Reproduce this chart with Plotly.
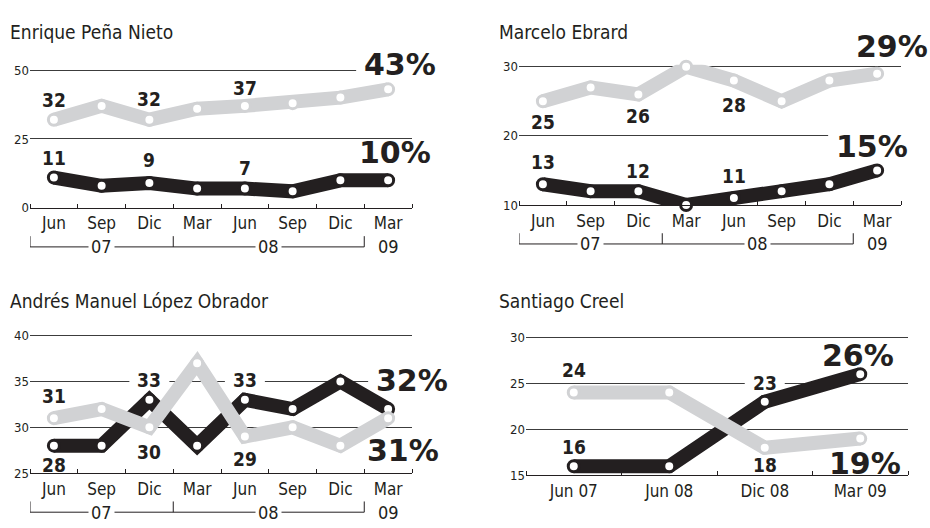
import plotly.graph_objects as go

W, H = 930, 528

# ---------------- data ----------------
months = ["Jun", "Sep", "Dic", "Mar", "Jun", "Sep", "Dic", "Mar"]
years = ["07", "08", "09"]
year_first_idx = [0, 3, 7]
year_last_idx = [2, 6, 7]

epn_gris = [32, 37, 32, 36, 37, 38, 40, 43]
epn_negro = [11, 8, 9, 7, 7, 6, 10, 10]

ebrard_gris = [25, 27, 26, 30, 28, 25, 28, 29]
ebrard_negro = [13, 12, 12, 10, 11, 12, 13, 15]

amlo_gris = [31, 32, 30, 37, 29, 30, 28, 31]
amlo_negro = [28, 28, 33, 28, 33, 32, 35, 32]

creel_months = ["Jun 07", "Jun 08", "Dic 08", "Mar 09"]
creel_gris = [24, 24, 18, 19]
creel_negro = [16, 16, 23, 26]

titles = ["Enrique Peña Nieto", "Marcelo Ebrard",
          "Andrés Manuel López Obrador", "Santiago Creel"]

# ---------------- style ----------------
BLACK = "#231f20"
GRAY = "#d1d2d4"
GRID = "#3c3c3c"
NARROW = "DejaVu Sans Condensed, Liberation Sans Narrow, sans-serif"
HEAVY = "DejaVu Sans, sans-serif"

panels = [
    dict(title=titles[0], cats=months, gris=epn_gris, negro=epn_negro,
         yr=[0, 50], yt=[0, 25, 50], box=(30, 412, 66.7, 208), title_xy=(8, 28),
         labels=[("g", 0, 20), ("g", 2, 21), ("g", 4, 18),
                 ("n", 0, 20), ("n", 2, 23), ("n", 4, 21)],
         pct_g=(48, 25), pct_n=(43, 28), brackets=True),
    dict(title=titles[1], cats=months, gris=ebrard_gris, negro=ebrard_negro,
         yr=[10, 30], yt=[10, 20, 30], box=(519, 901, 63.3, 205), title_xy=(497, 28),
         labels=[("g", 0, -21), ("g", 2, -22), ("g", 4, -24),
                 ("n", 0, 22), ("n", 2, 20), ("n", 4, 22)],
         pct_g=(51, 27), pct_n=(31, 24), brackets=True),
    dict(title=titles[2], cats=months, gris=amlo_gris, negro=amlo_negro,
         yr=[25, 40], yt=[25, 30, 35, 40], box=(30, 412, 339, 480), title_xy=(8, 303),
         labels=[("g", 0, 22), ("g", 2, -25), ("g", 4, -22),
                 ("n", 0, -19), ("n", 2, 20), ("n", 4, 20)],
         pct_g=(51, -32), pct_n=(60, 29), brackets=True),
    dict(title=titles[3], cats=creel_months, gris=creel_gris, negro=creel_negro,
         yr=[15, 30], yt=[15, 20, 25, 30], box=(526, 908, 340.7, 482.3), title_xy=(497, 303),
         labels=[("g", 0, 23), ("g", 2, -17),
                 ("n", 0, 19), ("n", 2, 19)],
         pct_g=(41, -25), pct_n=(34, 19), brackets=False),
]

fig = go.Figure()
shapes = []
annotations = []
layout_axes = {}


def mask(xa, ya, xv, yv, x0, x1, y0, y1):
    """white patch (pixel sized) hiding gridlines behind a label"""
    return dict(type="rect", layer="between", xref=xa, yref=ya,
                xsizemode="pixel", ysizemode="pixel", xanchor=xv, yanchor=yv,
                x0=x0, x1=x1, y0=y0, y1=y1, fillcolor="white", line=dict(width=0))


EXTRA_PX = 2  # head-room above the top gridline so it is not clipped

for k, p in enumerate(panels, start=1):
    xa = "x" if k == 1 else f"x{k}"
    ya = "y" if k == 1 else f"y{k}"
    xkey = "xaxis" if k == 1 else f"xaxis{k}"
    ykey = "yaxis" if k == 1 else f"yaxis{k}"
    x0, x1, ytop, ybot = p["box"]
    n = len(p["cats"])
    idx = list(range(n))
    units_per_px = (p["yr"][1] - p["yr"][0]) / (ybot - ytop)
    yrange = [p["yr"][0], p["yr"][1] + EXTRA_PX * units_per_px]

    layout_axes[xkey] = dict(
        domain=[x0 / W, x1 / W], anchor=ya, range=[-0.5, n - 0.5],
        tickvals=idx, ticktext=p["cats"], ticks="", showgrid=False, zeroline=False,
        showline=True, linecolor=BLACK, linewidth=1.3,
        tickfont=dict(family=NARROW, size=17, color=BLACK),
        minor=dict(tickvals=[i - 0.5 for i in range(n + 1)], ticks="inside",
                   ticklen=4, tickcolor=BLACK, tickwidth=1, showgrid=False),
        fixedrange=True,
    )
    layout_axes[ykey] = dict(
        domain=[1 - ybot / H, 1 - (ytop - EXTRA_PX) / H], anchor=xa, range=yrange,
        tickvals=p["yt"], ticks="", showgrid=True, gridcolor=GRID, gridwidth=1.2,
        zeroline=False, showline=False,
        tickfont=dict(family=NARROW, size=13, color=BLACK), fixedrange=True,
    )

    for series, color in (("negro", BLACK), ("gris", GRAY)):
        fig.add_trace(go.Scatter(
            x=idx, y=p[series], xaxis=xa, yaxis=ya, mode="lines+markers",
            line=dict(color=color, width=14),
            marker=dict(color="white", size=11, line=dict(color=color, width=3)),
            cliponaxis=False, hoverinfo="skip", showlegend=False,
        ))

    # data labels
    for s, i, dy in p["labels"]:
        vals = p["gris"] if s == "g" else p["negro"]
        annotations.append(dict(
            x=i, y=vals[i], xref=xa, yref=ya, text=str(vals[i]), showarrow=False,
            yshift=dy, font=dict(family=NARROW, size=19, color=BLACK, weight="bold"),
        ))
        shapes.append(mask(xa, ya, i, vals[i], -20, 20, dy - 10, dy + 10))
    # big percentage labels
    for s, (dx, dy) in (("g", p["pct_g"]), ("n", p["pct_n"])):
        vals = p["gris"] if s == "g" else p["negro"]
        annotations.append(dict(
            x=n - 1, y=vals[-1], xref=xa, yref=ya, text=f"{vals[-1]}%", showarrow=False,
            xanchor="right", xshift=dx + 2, yshift=dy,
            font=dict(family=HEAVY, size=30, color=BLACK, weight="bold"),
        ))
        shapes.append(mask(xa, ya, n - 1, vals[-1], dx - 80, dx + 2, dy - 13, dy + 13))
    # title
    tx, ty = p["title_xy"]
    annotations.append(dict(
        x=tx / W, y=1 - ty / H, xref="paper", yref="paper", xanchor="left",
        yanchor="middle", text=p["title"], showarrow=False,
        font=dict(family=NARROW, size=19, color=BLACK),
    ))
    # year brackets
    if p["brackets"]:
        by = 1 - (ybot + 40) / H
        tick_h = 11 / H
        shapes.append(dict(type="line", xref=xa, yref="paper",
                           x0=-0.5, x1=year_last_idx[1] + 0.5, y0=by, y1=by,
                           line=dict(color=BLACK, width=1)))
        for xv in (-0.5, year_last_idx[0] + 0.5, year_last_idx[1] + 0.5):
            shapes.append(dict(type="line", xref=xa, yref="paper",
                               x0=xv, x1=xv, y0=by, y1=by + tick_h,
                               line=dict(color=BLACK, width=1)))
        for yname, a, b in zip(years, year_first_idx, year_last_idx):
            annotations.append(dict(
                x=(a + b) / 2, y=by, xref=xa, yref="paper", text=yname,
                showarrow=False, yanchor="middle",
                font=dict(family=NARROW, size=18, color=BLACK),
                bgcolor="white", borderpad=2,
            ))

fig.update_layout(
    width=W, height=H, margin=dict(l=0, r=0, t=0, b=0),
    paper_bgcolor="white", plot_bgcolor="white",
    shapes=shapes, annotations=annotations, showlegend=False,
    **layout_axes,
)

fig.write_html("out.html", config={"displayModeBar": False},
               post_script="document.body.style.margin='0px';")
